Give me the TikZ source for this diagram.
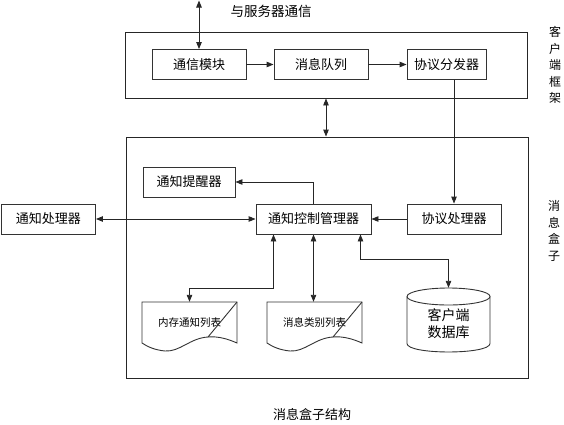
\documentclass[tikz,border=0pt]{standalone}
\usepackage{fontspec}
\setmainfont{Noto Sans CJK SC}
\usetikzlibrary{arrows.meta}

\begin{document}
\begin{tikzpicture}[
    x=1pt, y=-1pt,
    box/.style={draw=black!80, line width=0.9pt, minimum width=#1, minimum height=30pt, inner sep=0pt, font=\fontsize{13}{15}\selectfont},
    box/.default=94pt,
    frame/.style={draw=black!85, line width=0.9pt, inner sep=0pt},
    shape line/.style={draw=black!80, line width=0.9pt},
    connection/.style={-{Triangle[length=7pt,width=5.5pt]}, line width=0.9pt, black!85},
    both connection/.style={{Triangle[length=7pt,width=5.5pt]}-{Triangle[length=7pt,width=5.5pt]}, line width=0.9pt, black!85},
    side label/.style={align=center, font=\fontsize{12}{16.5}\selectfont},
    list text/.style={minimum width=95pt, minimum height=41pt, inner sep=0pt, font=\fontsize{10.5}{12}\selectfont}
]
\useasboundingbox (0,0) rectangle (564,424);

% Frames
\node[frame, minimum width=402pt, minimum height=66pt] (cf) at (326,65) {};
\node[frame, minimum width=402pt, minimum height=241pt] (mb) at (327,257.5) {};
\node[side label] (cflabel) at (555,65) {客\\户\\端\\框\\架};
\node[side label] (mblabel) at (554,231) {消\\息\\盒\\子};

% Client frame
\node[box] (comm) at (199,64.5) {通信模块};
\node[box] (queue) at (321,64.5) {消息队列};
\node[box=79pt] (disp) at (446.5,64.5) {协议分发器};
\node[font=\fontsize{13.5}{15}\selectfont] (srvlabel) at (271,11) {与服务器通信};
\coordinate (srv) at (199,0.5);

% Message box
\node[box=92pt] (alert) at (189,182) {通知提醒器};
\node[box] (handler) at (48.5,219) {通知处理器};
\node[box=115pt] (mgr) at (313.5,219) {通知控制管理器};
\node[box] (proc) at (454,219) {协议处理器};

% Lists
\node[list text] (memlist) at (189.5,322.5) {内存通知列表};
\node[list text] (catlist) at (314.5,322.5) {消息类别列表};
\foreach \l in {142,267} {
    \draw[shape line] (\l,302) -- (\l+95,302) -- (\l+95,343)
        .. controls (\l+86,339) and (\l+76,336) .. (\l+66,337)
        .. controls (\l+48,338) and (\l+38,352) .. (\l+23,351)
        .. controls (\l+13,350) and (\l+6,347) .. (\l,343) -- cycle;
    \draw[shape line] (\l+95,302) -- (\l+66,337);
}

% Database
\node[align=center, minimum width=83pt, minimum height=55pt, inner sep=0pt, font=\fontsize{14}{17}\selectfont] (db) at (448.5,324) {客户端\\数据库};
\draw[shape line] (448.5,296.5) ellipse [x radius=41.5, y radius=8.5];
\draw[shape line] (407,296.5) -- (407,343.5) .. controls (407,354.8) and (490,354.8) .. (490,343.5) -- (490,296.5);

% Connections
\draw[both connection] (srv) -- (comm);
\draw[connection] (comm) -- (queue);
\draw[connection] (queue) -- (disp);
\draw[both connection] (cf.south) -- (cf.south |- mb.north);
\draw[connection] (disp.south -| proc.north) -- (proc.north);
\draw[connection] (proc) -- (mgr);
\draw[both connection] (handler) -- (mgr);
\draw[connection] (mgr.north) |- (alert.east);
\draw[both connection] ([xshift=-40pt]mgr.south) -- ++(0,54) -| (memlist.north);
\draw[both connection] (mgr.south) -- (mgr.south |- catlist.north);
\draw[both connection] ([xshift=47pt]mgr.south) -- ++(0,25) -| ([yshift=8.5pt]db.north);

% Caption
\node[font=\fontsize{13}{15}\selectfont] (caption) at (312,414) {消息盒子结构};

\end{tikzpicture}
\end{document}
